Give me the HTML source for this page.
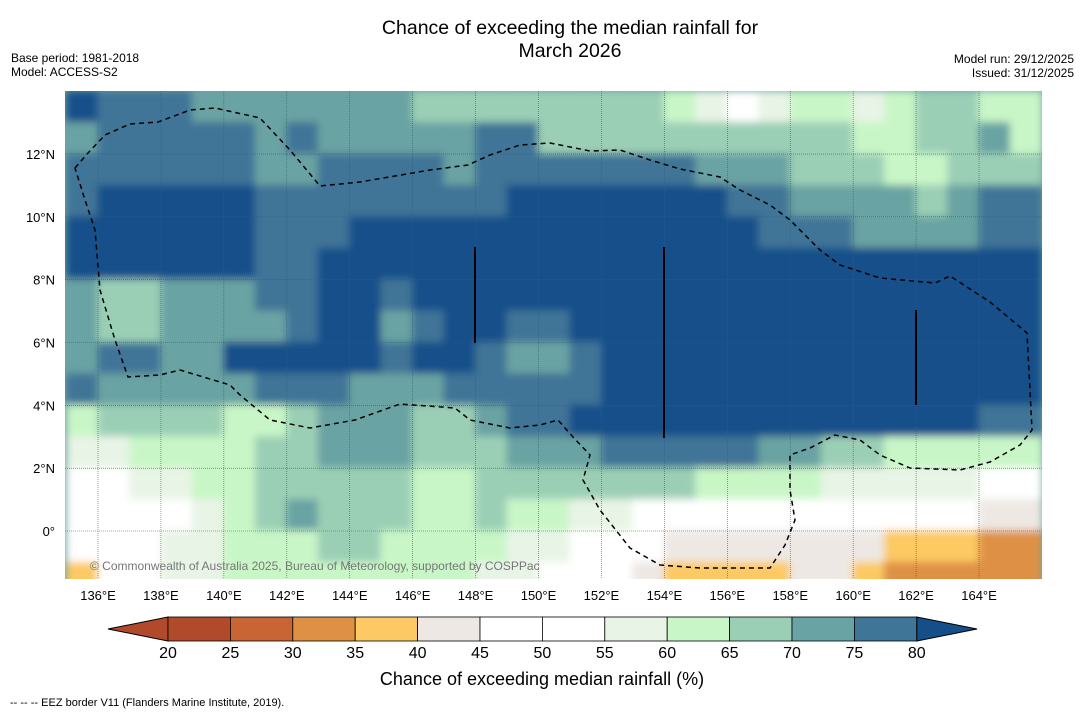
<!DOCTYPE html>
<html><head><meta charset="utf-8"><style>
body{margin:0;background:#fff;width:1085px;height:713px;overflow:hidden;font-family:"Liberation Sans",sans-serif}
svg{position:absolute;left:0;top:0}
</style></head><body>
<svg id="chart" width="1085" height="713">
<defs>
<clipPath id="mapclip"><rect x="65" y="91" width="977" height="488"/></clipPath>
<filter id="soft" x="-5%" y="-5%" width="110%" height="110%"><feGaussianBlur stdDeviation="4"/></filter>
</defs>
<text x="570" y="34" text-anchor="middle" font-size="19.5">Chance of exceeding the median rainfall for</text>
<text x="570" y="57" text-anchor="middle" font-size="19.5">March 2026</text>
<text x="11" y="62" font-size="12">Base period: 1981-2018</text>
<text x="11" y="76" font-size="12">Model: ACCESS-S2</text>
<text x="1074" y="63" font-size="12" text-anchor="end">Model run: 29/12/2025</text>
<text x="1074" y="77" font-size="12" text-anchor="end">Issued: 31/12/2025</text>
<g clip-path="url(#mapclip)">
<rect x="65" y="91" width="977" height="488" fill="#6aa3a3"/>
<g id="cells" filter="url(#soft)"></g>
<g id="grid"></g>
<path fill="none" stroke="#000" stroke-width="1.5" stroke-dasharray="5,4" d="M75,168 L88,153 105,135 130,124 158,122 190,110 215,108 260,118 290,150 320,186 360,182 430,170 468,165 490,155 520,145 550,143 590,151 620,150 650,160 680,169 720,177 740,190 770,205 790,220 820,250 840,265 880,278 935,283 950,276 990,302 1027,333 1030,390 1032,430 1020,445 990,462 960,470 910,468 880,455 860,440 835,435 810,448 790,455 790,490 795,520 785,545 770,568 700,568 660,565 630,548 600,510 583,480 590,455 573,437 558,420 540,425 510,428 470,420 455,408 400,404 355,420 310,428 270,420 240,395 230,385 180,370 160,375 128,377 115,340 100,290 95,230 85,200 Z"/>
<line x1="475" y1="247" x2="475" y2="343" stroke="#000" stroke-width="2"/>
<line x1="664" y1="247" x2="664" y2="438" stroke="#000" stroke-width="2"/>
<line x1="916" y1="310" x2="916" y2="405" stroke="#000" stroke-width="2"/>
<text x="90" y="570" font-size="12" fill="#777">© Commonwealth of Australia 2025, Bureau of Meteorology, supported by COSPPac</text>
</g>
<g id="axislabels"></g>
<g id="colorbar"></g>
<text x="542" y="685" text-anchor="middle" font-size="18">Chance of exceeding median rainfall (%)</text>
<text x="10" y="706" font-size="11">--  --  -- EEZ border V11 (Flanders Marine Institute, 2019).</text>
</svg>
<script>
// Grid of binned rainfall chance classes (0:20-25 ... 12:>80), rows from lat 14 downward, cols lon 135..165
const lonStart = 135;
const latTop = 14;
const gridRows = [
"CBBBAAAAAAA99999999876788789988",
"ABBBBBABAAAAABB99999999998899A8",
"BBBBBBAABBBBABBBBBBBAAA99988999",
"BCCCCCBBBBBBBBCCCCCCCBBAAAA9ABB",
"CCCCCCBBBCCCCCCCCCCCCCBBBAAAABB",
"CCCCCCBBCCCCCCCCCCCCCCCCCCCCCCC",
"A99AAABBCCBCCCCCCCCCCCCCCCCCCCC",
"A99AAAABCCABCCBBCCCCCCCCCCCCCCC",
"ABBAACCCCCBCCBAABCCCCCCCCCCCCCC",
"BAAAAABBBAAABBBBBCCCCCCCCCCCCCC",
"89999889AAA99ABBCCCCCCCCCCCCCBB",
"77888899AAA999AAABBBBBAA9988888",
"6677889999988999999988887777766",
"6666789A99988988776666666666544",
"6667788899888877665444444433322",
"3667788888888776664333344322222"
];
const classColors = ["#b04a2a","#c96535","#de9145","#fcc964","#ede8e3","#ffffff","#ffffff","#e8f4e6","#c9f6c7","#9bcfb5","#6aa3a3","#3f7597","#154f8a"];
const tickValues = [20,25,30,35,40,45,50,55,60,65,70,75,80];
const lonTicks = [136,138,140,142,144,146,148,150,152,154,156,158,160,162,164];
const latTicks = [0,2,4,6,8,10,12];

const NS = "http://www.w3.org/2000/svg";
const xOf = lon => 98 + (lon - 136) * 31.465;
const yOf = lat => 531 - lat * 31.415;

const cells = document.getElementById('cells');
gridRows.forEach((row, r) => {
  for (let c = 0; c < row.length; c++) {
    const k = parseInt(row[c], 16);
    const pct = 20 + 5 * k + 2.5;
    const ci = Math.min(12, Math.floor((pct - 20) / 5));
    const rect = document.createElementNS(NS, 'rect');
    const lon = lonStart + c, lat = latTop - r;
    rect.setAttribute('x', xOf(lon) - 0.5);
    rect.setAttribute('y', yOf(lat) - 0.5);
    rect.setAttribute('width', 32.5);
    rect.setAttribute('height', 32.5);
    rect.setAttribute('fill', classColors[ci]);
    
    
    cells.appendChild(rect);
  }
});

const grid = document.getElementById('grid');
const axl = document.getElementById('axislabels');
lonTicks.forEach(l => {
  const ln = document.createElementNS(NS, 'line');
  ln.setAttribute('x1', xOf(l)); ln.setAttribute('x2', xOf(l));
  ln.setAttribute('y1', 91); ln.setAttribute('y2', 579);
  ln.setAttribute('stroke', '#555'); ln.setAttribute('stroke-width', '0.6'); ln.setAttribute('stroke-dasharray', '1,1');
  
  
  grid.appendChild(ln);
  const t = document.createElementNS(NS, 'text');
  t.setAttribute('x', xOf(l)); t.setAttribute('y', 600);
  t.setAttribute('text-anchor', 'middle'); t.setAttribute('font-size', '13');
  t.textContent = l + '°E';
  
  
  axl.appendChild(t);
});
latTicks.forEach(l => {
  const ln = document.createElementNS(NS, 'line');
  ln.setAttribute('x1', 65); ln.setAttribute('x2', 1042);
  ln.setAttribute('y1', yOf(l)); ln.setAttribute('y2', yOf(l));
  ln.setAttribute('stroke', '#555'); ln.setAttribute('stroke-width', '0.6'); ln.setAttribute('stroke-dasharray', '1,1');
  
  
  grid.appendChild(ln);
  const t = document.createElementNS(NS, 'text');
  t.setAttribute('x', 55); t.setAttribute('y', yOf(l) + 5);
  t.setAttribute('text-anchor', 'end'); t.setAttribute('font-size', '13');
  t.textContent = l === 0 ? '0°' : l + '°N';
  
  
  axl.appendChild(t);
});

const cb = document.getElementById('colorbar');
const cbX = v => 168 + (v - 20) * 12.48;
const cbY = 617, cbH = 24;
const left = document.createElementNS(NS, 'polygon');
left.setAttribute('points', `${cbX(20)},${cbY} 108,${cbY + cbH / 2} ${cbX(20)},${cbY + cbH}`);
left.setAttribute('fill', classColors[0]); left.setAttribute('stroke', '#000');


cb.appendChild(left);
for (let i = 0; i < tickValues.length - 1; i++) {
  const r = document.createElementNS(NS, 'rect');
  r.setAttribute('x', cbX(tickValues[i])); r.setAttribute('y', cbY);
  r.setAttribute('width', cbX(tickValues[i + 1]) - cbX(tickValues[i])); r.setAttribute('height', cbH);
  r.setAttribute('fill', classColors[i]); r.setAttribute('stroke', '#000'); r.setAttribute('stroke-width', '0.8');
  
  
  cb.appendChild(r);
}
const right = document.createElementNS(NS, 'polygon');
right.setAttribute('points', `${cbX(80)},${cbY} 977,${cbY + cbH / 2} ${cbX(80)},${cbY + cbH}`);
right.setAttribute('fill', classColors[12]); right.setAttribute('stroke', '#000');


cb.appendChild(right);
tickValues.forEach(v => {
  const t = document.createElementNS(NS, 'text');
  t.setAttribute('x', cbX(v)); t.setAttribute('y', 658);
  t.setAttribute('text-anchor', 'middle'); t.setAttribute('font-size', '16');
  t.textContent = v;
  
  
  cb.appendChild(t);
});
</script>
</body></html>
